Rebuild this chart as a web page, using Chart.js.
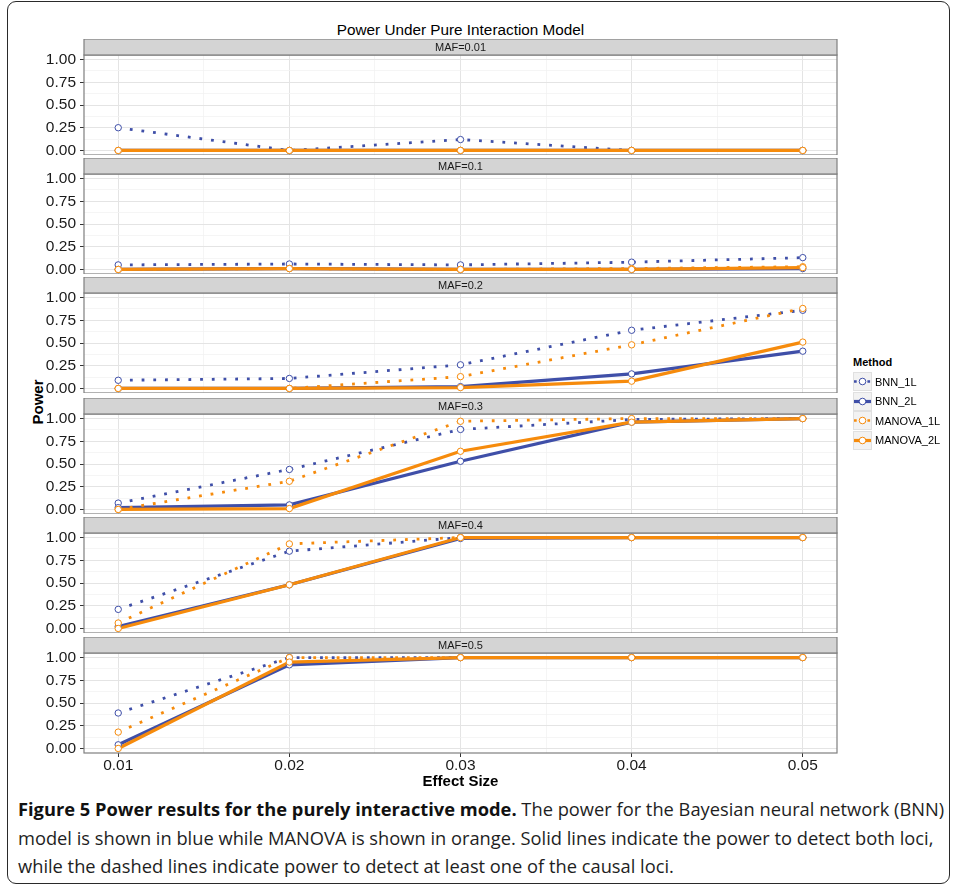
<!DOCTYPE html>
<html>
<head>
<meta charset="utf-8">
<script src="https://cdn.jsdelivr.net/npm/chart.js@4.4.1/dist/chart.umd.min.js"></script>
<style>
  html, body { margin:0; padding:0; background:#fff; }
  body { width:954px; height:889px; position:relative; overflow:hidden; font-family:"Liberation Sans", Arial, sans-serif; }
  .abs { position:absolute; }
  #frame { left:7px; top:1px; width:943px; height:883px; border:1.5px solid #2a2a2a; border-radius:9px; box-sizing:border-box; }
  #title { left:0; width:921px; top:21px; text-align:center; font-size:15.3px; color:#000; }
  #ylab { left:37px; top:402px; font-weight:bold; font-size:15px; color:#000; transform:translate(-50%,-50%) rotate(-90deg); white-space:nowrap; }
  #legend { left:853px; top:355px; font-size:11px; color:#000; }
  #legend .ttl { font-weight:bold; margin-bottom:3px; height:14px; line-height:14px; }
  #legend .row { height:19.5px; display:flex; align-items:center; }
  #legend canvas { display:block; margin-right:3px; }
  .cap { left:18px; font-family:"Open Sans", sans-serif; color:#1e1e1e; white-space:nowrap; }
  .cap b { font-weight:bold; color:#111; }
</style>
</head>
<body>
<div id="frame" class="abs"></div>
<div id="title" class="abs">Power Under Pure Interaction Model</div>
<div id="ylab" class="abs">Power</div>
<div id="legend" class="abs"></div>
<div id="cap1" class="abs cap" style="top:796px"><b>Figure 5 Power results for the purely interactive mode.</b> The power for the Bayesian neural network (BNN)</div>
<div id="cap2" class="abs cap" style="top:825px">model is shown in blue while MANOVA is shown in orange. Solid lines indicate the power to detect both loci,</div>
<div id="cap3" class="abs cap" style="top:853px">while the dashed lines indicate power to detect at least one of the causal loci.</div>
<script>
// ---------------- data ----------------
const effectSizes = [0.01, 0.02, 0.03, 0.04, 0.05];
const mafPanels = ['MAF=0.01', 'MAF=0.1', 'MAF=0.2', 'MAF=0.3', 'MAF=0.4', 'MAF=0.5'];
const methods = ['BNN_1L', 'BNN_2L', 'MANOVA_1L', 'MANOVA_2L'];
const yTickValues = [0, 0.25, 0.5, 0.75, 1];
const xTickValues = [0.01, 0.02, 0.03, 0.04, 0.05];

// power per MAF panel (rows) at each effect size (columns)
const bnn1L = [
  [0.25, 0.00, 0.12, 0.00, 0.00],
  [0.05, 0.06, 0.05, 0.08, 0.13],
  [0.09, 0.11, 0.26, 0.64, 0.86],
  [0.07, 0.44, 0.88, 0.99, 1.00],
  [0.21, 0.85, 1.00, 1.00, 1.00],
  [0.39, 1.00, 1.00, 1.00, 1.00]
];
const bnn2L = [
  [0.00, 0.00, 0.00, 0.00, 0.00],
  [0.00, 0.01, 0.00, 0.00, 0.01],
  [0.00, 0.00, 0.02, 0.16, 0.41],
  [0.02, 0.05, 0.53, 0.96, 1.00],
  [0.02, 0.48, 0.99, 1.00, 1.00],
  [0.04, 0.92, 1.00, 1.00, 1.00]
];
const manova1L = [
  [0.00, 0.00, 0.00, 0.00, 0.00],
  [0.00, 0.01, 0.00, 0.01, 0.03],
  [0.00, 0.00, 0.13, 0.48, 0.88],
  [0.00, 0.31, 0.97, 1.00, 1.00],
  [0.06, 0.93, 1.00, 1.00, 1.00],
  [0.18, 1.00, 1.00, 1.00, 1.00]
];
const manova2L = [
  [0.00, 0.00, 0.00, 0.00, 0.00],
  [0.00, 0.01, 0.00, 0.00, 0.02],
  [0.00, 0.00, 0.01, 0.08, 0.51],
  [0.00, 0.01, 0.64, 0.96, 1.00],
  [0.00, 0.48, 1.00, 1.00, 1.00],
  [0.00, 0.95, 1.00, 1.00, 1.00]
];

// ---------------- styles ----------------
const BLUE = '#3F4FA8';
const ORANGE = '#F68B0C';
const seriesDefs = [
  { name: methods[0], data: bnn1L,    color: BLUE,   dotted: true,  order: 7 },
  { name: methods[1], data: bnn2L,    color: BLUE,   dotted: false, order: 6 },
  { name: methods[2], data: manova1L, color: ORANGE, dotted: true,  order: 5 },
  { name: methods[3], data: manova2L, color: ORANGE, dotted: false, order: 4 }
];
const panelTops = [39, 158, 277, 398, 517, 637];
const STRIP = 16, PLOT = 100, XAX = 38;
const TICK_FONT = { family: '"Liberation Sans", Arial, sans-serif', size: 15.5 };

const near = (v, arr) => arr.some(a => Math.abs(a - v) < 1e-9);

const panelPlugin = {
  id: 'panelDeco',
  afterDatasetsDraw(chart, args, opts) {
    const { ctx, chartArea: a } = chart;
    ctx.save();
    ctx.strokeStyle = '#7F7F7F';
    ctx.lineWidth = 1.2;
    ctx.strokeRect(a.left, a.top, a.right - a.left, a.bottom - a.top);
    // strip
    ctx.fillStyle = '#D4D4D4';
    ctx.fillRect(a.left, a.top - STRIP, a.right - a.left, STRIP);
    ctx.strokeRect(a.left, a.top - STRIP, a.right - a.left, STRIP);
    ctx.fillStyle = '#1A1A1A';
    ctx.font = '11px "Liberation Sans", Arial, sans-serif';
    ctx.textAlign = 'center';
    ctx.textBaseline = 'middle';
    ctx.fillText(opts.label, (a.left + a.right) / 2, a.top - STRIP / 2 + 0.5);
    ctx.restore();
  }
};

mafPanels.forEach((label, p) => {
  const last = p === mafPanels.length - 1;
  const cv = document.createElement('canvas');
  const h = STRIP + PLOT + (last ? XAX : 0);
  cv.width = 840; cv.height = h;
  cv.style.position = 'absolute';
  cv.style.left = '0px';
  cv.style.top = panelTops[p] + 'px';
  cv.style.width = '840px'; cv.style.height = h + 'px';
  document.body.appendChild(cv);

  const datasets = [];
  seriesDefs.forEach(s => {
    const pts = effectSizes.map((x, i) => ({ x: x, y: s.data[p][i] }));
    datasets.push({
      label: s.name, data: pts, borderColor: s.color, backgroundColor: s.color,
      borderWidth: s.dotted ? 2.8 : 3.2, borderDash: s.dotted ? [2.8, 8.9] : [],
      borderCapStyle: 'butt', pointRadius: 0, tension: 0, order: s.order, fill: false
    });
  });
  seriesDefs.forEach(s => {
    const pts = effectSizes.map((x, i) => ({ x: x, y: s.data[p][i] }));
    datasets.push({
      label: s.name + ' pts', data: pts, showLine: false,
      pointRadius: 3.2, pointBorderWidth: 1, pointBorderColor: s.color,
      pointBackgroundColor: '#FFFFFF', order: s.order - 4
    });
  });

  new Chart(cv, {
    type: 'line',
    data: { datasets },
    options: {
      responsive: false, animation: false, devicePixelRatio: 1,
      layout: { autoPadding: false, padding: { top: STRIP, right: 3, left: 0, bottom: 0 } },
      plugins: { legend: { display: false }, tooltip: { enabled: false }, panelDeco: { label } },
      scales: {
        x: {
          type: 'linear', min: 0.008, max: 0.052,
          afterBuildTicks: s => { s.ticks = [0.01,0.015,0.02,0.025,0.03,0.035,0.04,0.045,0.05].map(v => ({ value: v })); },
          afterFit: s => { s.height = last ? XAX : 0; s.paddingLeft = 0; s.paddingRight = 0; },
          border: { display: false },
          grid: {
            color: c => (c.tick && near(c.tick.value, xTickValues)) ? '#E4E4E4' : '#F3F3F3',
            lineWidth: c => (c.tick && near(c.tick.value, xTickValues)) ? 1 : 0.8,
            drawTicks: last, tickLength: 4,
            tickColor: c => (c.tick && near(c.tick.value, xTickValues)) ? '#333333' : 'rgba(0,0,0,0)'
          },
          ticks: {
            display: last, autoSkip: false, maxRotation: 0, padding: -1,
            color: '#1A1A1A', font: TICK_FONT,
            callback: v => near(v, xTickValues) ? v.toFixed(2) : ''
          },
          title: { display: last, text: 'Effect Size', color: '#000', padding: { top: 0, bottom: 0 },
                   font: { family: '"Liberation Sans", Arial, sans-serif', size: 15, weight: 'bold' } }
        },
        y: {
          type: 'linear', min: -0.05, max: 1.05,
          afterBuildTicks: s => { s.ticks = [0,0.125,0.25,0.375,0.5,0.625,0.75,0.875,1].map(v => ({ value: v })); },
          afterFit: s => { s.width = 84; s.paddingTop = 0; s.paddingBottom = 0; },
          border: { display: false },
          grid: {
            color: c => (c.tick && near(c.tick.value, yTickValues)) ? '#E4E4E4' : '#F3F3F3',
            lineWidth: c => (c.tick && near(c.tick.value, yTickValues)) ? 1 : 0.8,
            drawTicks: true, tickLength: 4,
            tickColor: c => (c.tick && near(c.tick.value, yTickValues)) ? '#333333' : 'rgba(0,0,0,0)'
          },
          ticks: {
            autoSkip: false, padding: 4, color: '#1A1A1A', font: TICK_FONT,
            callback: v => near(v, yTickValues) ? v.toFixed(2) : ''
          }
        }
      }
    },
    plugins: [panelPlugin]
  });
});

// ---------------- legend (keys) ----------------
const leg = document.getElementById('legend');
const t = document.createElement('div'); t.className = 'ttl'; t.textContent = 'Method'; leg.appendChild(t);
seriesDefs.forEach(s => {
  const row = document.createElement('div'); row.className = 'row';
  const k = document.createElement('canvas'); k.width = 19; k.height = 19;
  const c = k.getContext('2d');
  c.fillStyle = '#F2F2F2'; c.fillRect(0, 0, 19, 19);
  c.strokeStyle = '#E0E0E0'; c.lineWidth = 1; c.strokeRect(0.5, 0.5, 18, 18);
  c.strokeStyle = s.color; c.lineWidth = s.dotted ? 2.7 : 3.2; c.lineCap = 'butt';
  c.setLineDash(s.dotted ? [2.7, 4] : []);
  c.beginPath(); c.moveTo(1, 9.5); c.lineTo(18, 9.5); c.stroke();
  c.setLineDash([]);
  c.fillStyle = '#fff'; c.lineWidth = 1; c.beginPath(); c.arc(9.5, 9.5, 3.3, 0, Math.PI * 2); c.fill(); c.stroke();
  row.appendChild(k);
  const l = document.createElement('span'); l.textContent = s.name; row.appendChild(l);
  leg.appendChild(row);
});

// fit caption width to reference
(function () {
  const c1 = document.getElementById('cap1');
  let fs = 17;
  c1.style.fontSize = fs + 'px';
  const w = c1.getBoundingClientRect().width;
  fs = fs * 927 / w;
  ['cap1', 'cap2', 'cap3'].forEach(id => document.getElementById(id).style.fontSize = fs.toFixed(2) + 'px');
})();
</script>
</body>
</html>
